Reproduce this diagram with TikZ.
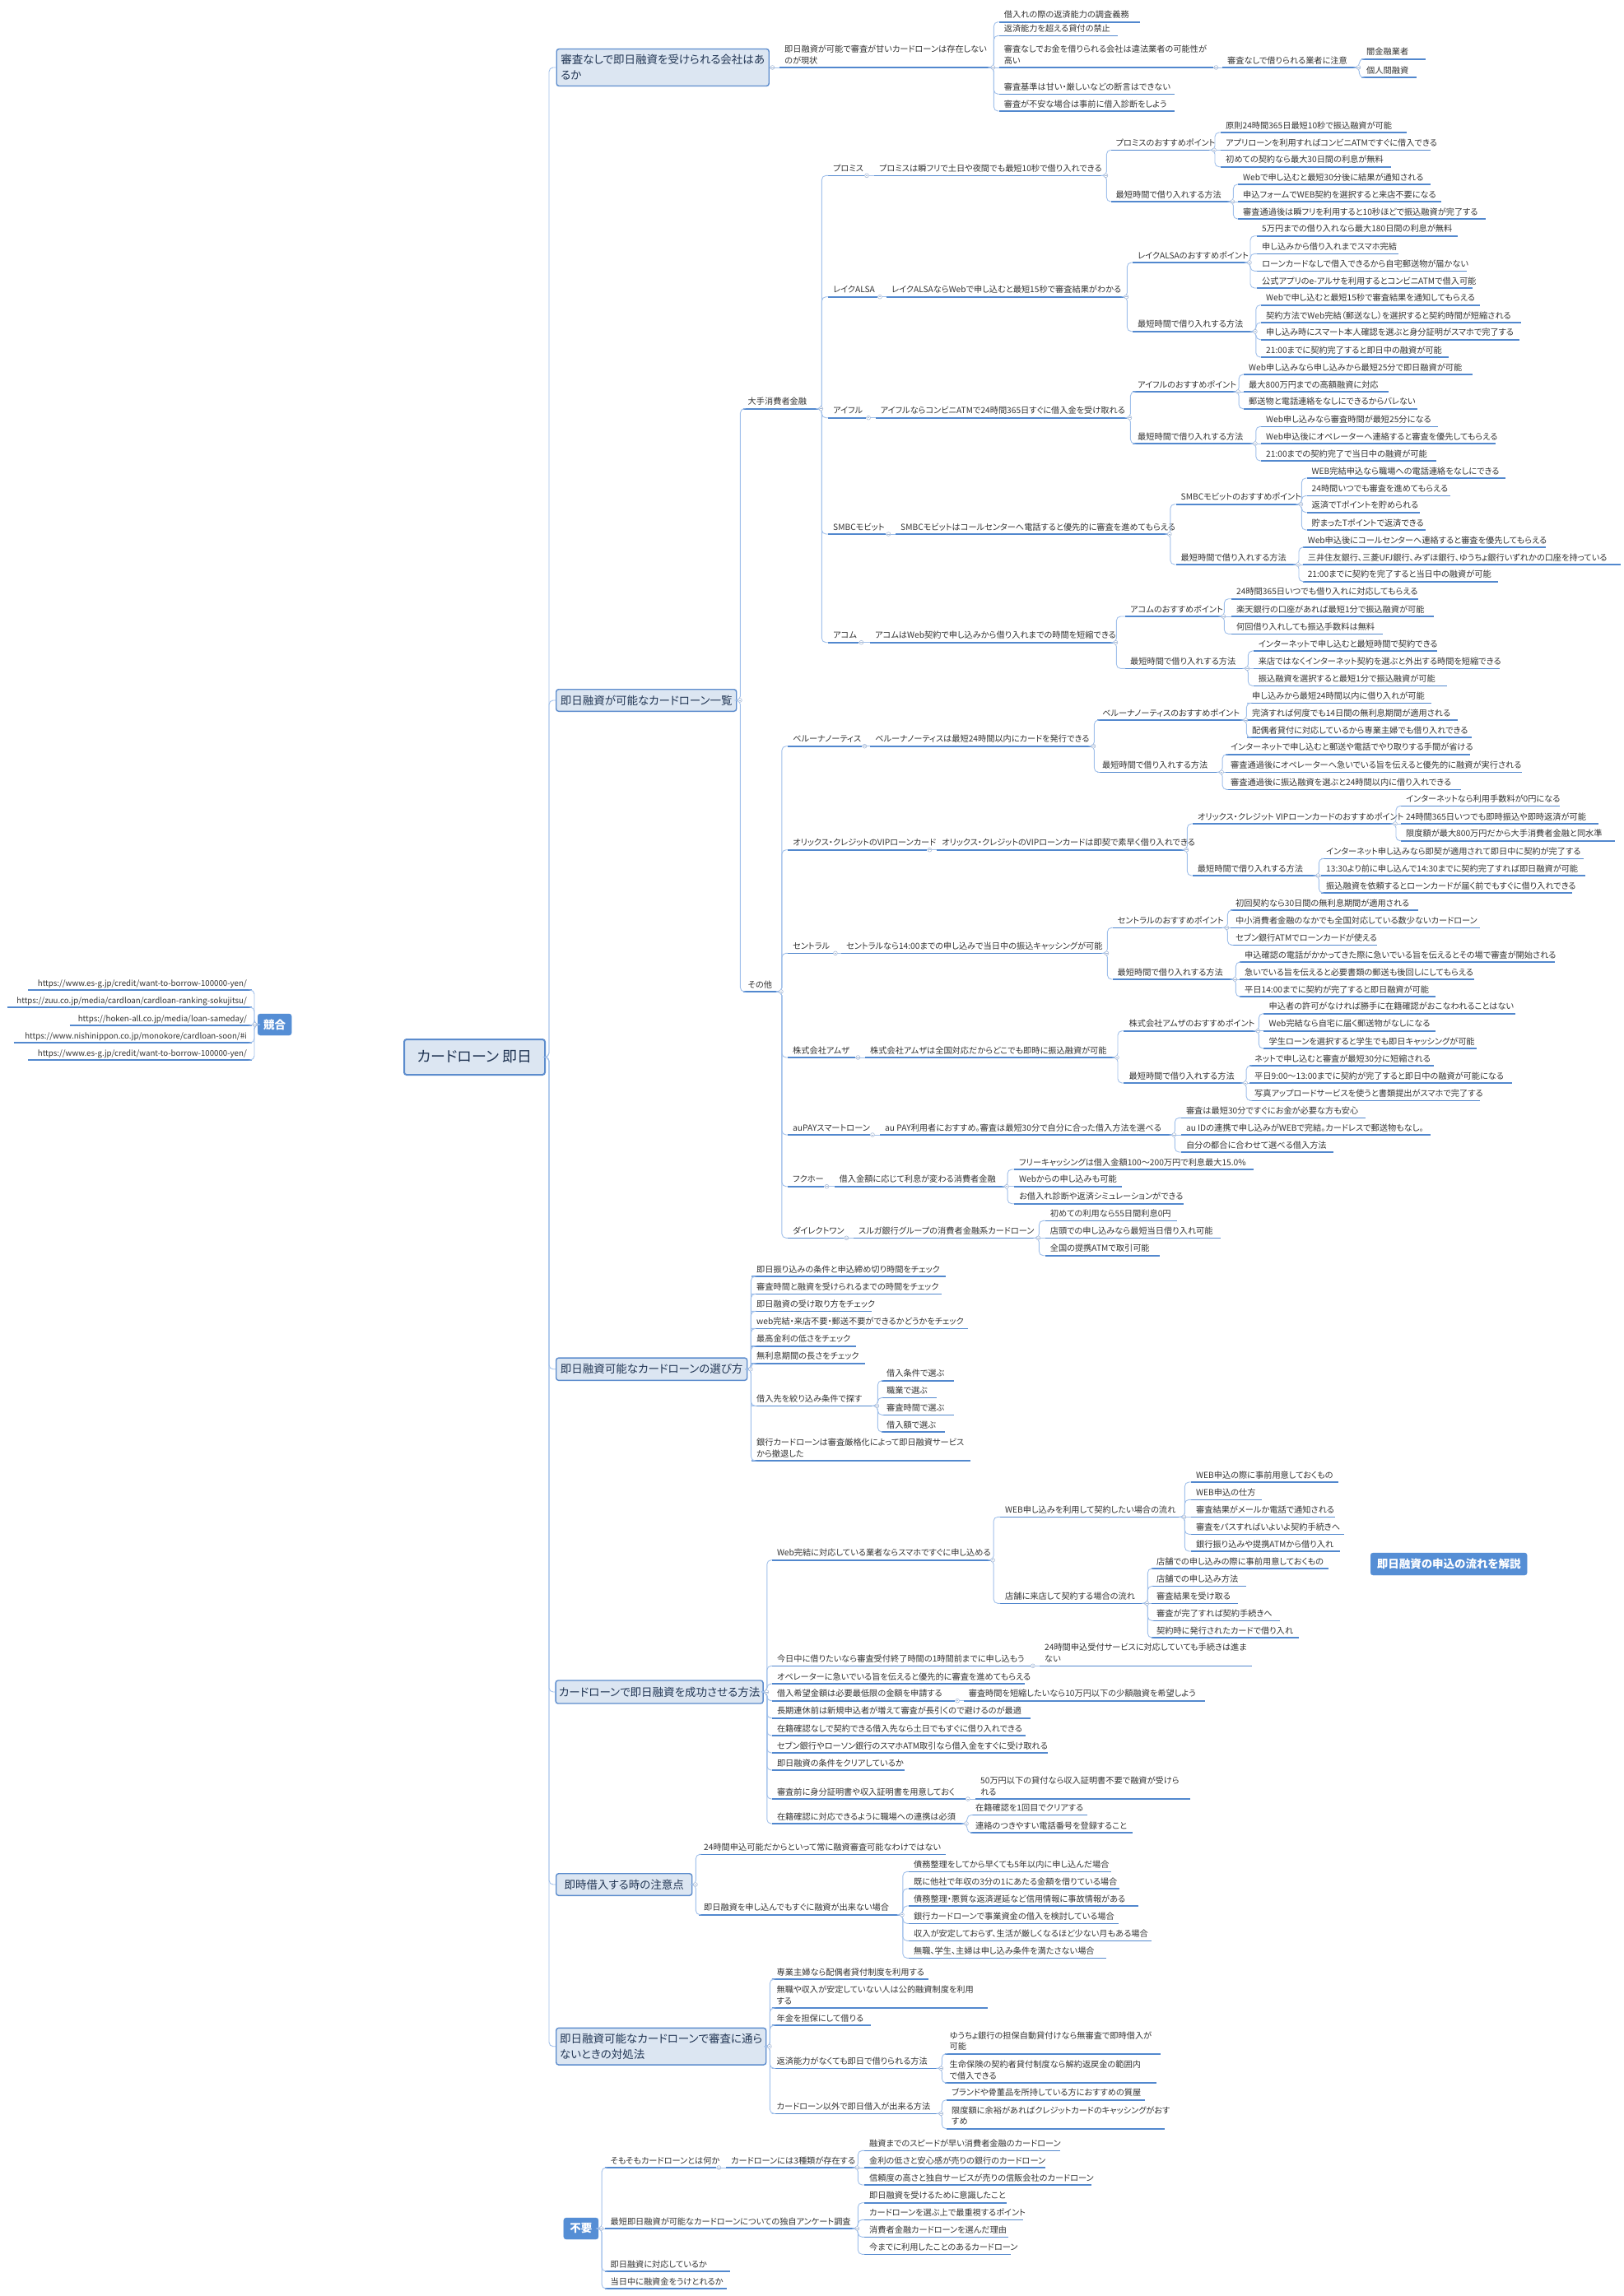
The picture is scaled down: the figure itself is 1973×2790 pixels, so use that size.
\documentclass[tikz,border=0pt]{standalone}
\usepackage{fontspec}
\setmainfont{Noto Sans CJK JP}[RawFeature=+palt]
\definecolor{ulc}{RGB}{82,136,206}
\definecolor{cnc}{RGB}{160,192,235}
\definecolor{boxf}{RGB}{220,230,242}
\definecolor{boxb}{RGB}{92,140,205}
\definecolor{boxt}{RGB}{35,55,85}
\definecolor{bluef}{RGB}{85,142,213}
\definecolor{txtc}{RGB}{51,51,51}
\definecolor{mkc}{RGB}{165,185,215}
\newcommand\lffont{\fontsize{10.2}{13.5}\selectfont}
\newcommand\urfont{\fontsize{9.7}{13}\selectfont}
\newlength\lfw
\tikzset{
 leaf/.style={inner xsep=6pt, inner ysep=2pt, align=left, font=\lffont, text=txtc,
   execute at end node={\vrule width 0pt height 0pt depth 2.8pt}},
 leafh/.style={inner xsep=6pt, inner ysep=2pt, font=\lffont, text=txtc,
   execute at end node={\vrule width 0pt height 0pt depth 2.8pt}},
 uline/.style={draw=ulc, line width=1.6pt},
 conn/.style={draw=cnc, line width=0.9pt, rounded corners=5pt},
 mainbox/.style={draw=boxb, fill=boxf, line width=1.4pt, rounded corners=3pt, text=boxt,
   font=\fontsize{13.5}{19}\selectfont, align=left, inner sep=0pt, anchor=west},
 bluebox/.style={fill=bluef, draw=bluef, rounded corners=3pt, text=white,
   font=\bfseries\fontsize{13.5}{16}\selectfont, inner sep=0pt, anchor=west},
 mkr/.style={draw=mkc, fill=white, line width=0.6pt},
}
% single-line leaf: name, x1, x2, y(underline), text
\newcommand\lf[5]{%
 \settowidth{\lfw}{\lffont #5}%
 \pgfmathsetmacro\reqw{#3-#2-12}%
 \ifdim\lfw<\reqw pt\relax\lfw=\reqw pt\relax\fi
 \node[leafh, anchor=south west] (#1) at (#2,#4) {\makebox[\lfw][l]{#5}};
 \draw[uline] (#1.south west) -- (#1.south east);}
% multi-line leaf
\newcommand\lfm[5]{%
 \pgfmathsetmacro\reqw{#3-#2-12}%
 \node[leaf, text width=\reqw pt, anchor=south west] (#1) at (#2,#4) {#5};
 \draw[uline] (#1.south west) -- (#1.south east);}
% right aligned leaf (urls)
\newcommand\lr[5]{%
 \settowidth{\lfw}{\urfont #5}%
 \pgfmathsetmacro\reqw{#3-#2-12}%
 \ifdim\lfw<\reqw pt\relax\lfw=\reqw pt\relax\fi
 \node[leafh, font=\urfont, anchor=south east] (#1) at (#3,#4) {\makebox[\lfw][r]{#5}};
 \draw[uline] (#1.south west) -- (#1.south east);}
% box: name, x, ymid, W, H, text
\newcommand\mb[6]{\node[mainbox, minimum width=#4pt, minimum height=#5pt] (#1) at (#2,#3) {#6};}
\newcommand\bb[6]{\node[bluebox, minimum width=#4pt, minimum height=#5pt] (#1) at (#2,#3) {#6};}
% connectors
\newcommand\cn[2]{\draw[conn] (#1.south east) -- ++(4,0) |- (#2.south west);}
\newcommand\cs[2]{\draw[conn] (#1.south east) -- (#2.south west);}
\newcommand\cb[2]{\draw[conn] (#1.east) -- ++(4,0) |- (#2.south west);}
\newcommand\cbs[2]{\draw[conn] (#1.east) -- (#2.south west);}
% collapse marker
\newcommand\mk[2]{%
 \path[mkr] ([xshift=#2]#1) circle (2.4pt);
 \draw[mkc, line width=0.5pt] ([xshift=#2-1.3pt]#1) -- ([xshift=#2+1.3pt]#1);}
\newcommand\mkl[1]{\mk{#1.south east}{3pt}}

\begin{document}
\begin{tikzpicture}[x=1pt, y=-1pt]
\useasboundingbox (0,0) rectangle (1973,2790);
\fill[white] (0,0) rectangle (1973,2790);

% ---------- root and left ----------
\node[mainbox, line width=2pt, font=\fontsize{18}{22}\selectfont, minimum width=171pt, minimum height=43pt] (root) at (490,1284.5) {カードローン 即日};
\bb{comp}{313}{1245}{41}{26}{競合}
\lr{w1}{34.5}{306}{1203}{https://www.es-g.jp/credit/want-to-borrow-100000-yen/}
\lr{w2}{9}{306}{1224}{https://zuu.co.jp/media/cardloan/cardloan-ranking-sokujitsu/}
\lr{w3}{85}{306}{1246}{https://hoken-all.co.jp/media/loan-sameday/}
\lr{w4}{17}{306}{1267}{https://www.nishinippon.co.jp/monokore/cardloan-soon/\#i}
\lr{w5}{34.5}{306}{1288}{https://www.es-g.jp/credit/want-to-borrow-100000-yen/}
\foreach \w in {w1,w2,w3,w4,w5} {\draw[conn] (comp.west) -- ++(-4,0) |- (\w.south east);}

% ---------- section boxes ----------
\mb{s1}{675.5}{82}{258}{45}{審査なしで即日融資を受けられる会社はあ\\るか}
\mb{s2}{675}{851}{219}{26.6}{即日融資が可能なカードローン一覧}
\mb{s3}{675}{1663.7}{232}{27.3}{即日融資可能なカードローンの選び方}
\mb{s4}{674.4}{2056}{252}{28}{カードローンで即日融資を成功させる方法}
\mb{s5}{675}{2290}{165}{26.6}{即時借入する時の注意点}
\mb{s6}{675}{2486.7}{255}{44.7}{即日融資可能なカードローンで審査に通ら\\ないときの対処法}
\foreach \s in {s1,s2,s3,s4,s5,s6} {\draw[conn] (root.east) -- ++(4,0) |- (\s.west);}

% ---------- section 1 ----------
\lfm{a1}{947}{1203}{82}{即日融資が可能で審査が甘いカードローンは存在しない\\のが現状}
\lf{a11}{1213.6}{1384.8}{26.7}{借入れの際の返済能力の調査義務}
\lf{a12}{1213.6}{1358}{43.3}{返済能力を超える貸付の禁止}
\lfm{a13}{1213.6}{1474}{82}{審査なしでお金を借りられる会社は違法業者の可能性が\\高い}
\lf{a14}{1213.6}{1427}{114.3}{審査基準は甘い・厳しいなどの断言はできない}
\lf{a15}{1213.6}{1427}{135}{審査が不安な場合は事前に借入診断をしよう}
\lf{a131}{1485}{1647}{82}{審査なしで借りられる業者に注意}
\lf{a1311}{1654}{1731.7}{71.7}{闇金融業者}
\lf{a1312}{1654}{1721}{94}{個人間融資}
\cbs{s1}{a1}
\cn{a1}{a11}\cn{a1}{a12}\cs{a1}{a13}\cn{a1}{a14}\cn{a1}{a15}
\cs{a13}{a131}\cn{a131}{a1311}\cn{a131}{a1312}

% ---------- section 2 ----------
\lf{b1}{902.5}{994}{496.7}{大手消費者金融}
\lf{b2}{902.5}{945.5}{1205}{その他}
\cb{s2}{b1}\cb{s2}{b2}

% プロミス
\lf{p0}{1006}{1049.6}{213.3}{プロミス}
\lf{p1}{1062}{1340}{213.3}{プロミスは瞬フリで土日や夜間でも最短10秒で借り入れできる}
\lf{p2}{1349.5}{1471.6}{182.3}{プロミスのおすすめポイント}
\lf{p21}{1483}{1709}{161}{原則24時間365日最短10秒で振込融資が可能}
\lf{p22}{1483}{1738}{182.3}{アプリローンを利用すればコンビニATMですぐに借入できる}
\lf{p23}{1483}{1690}{202.7}{初めての契約なら最大30日間の利息が無料}
\lf{p3}{1349.5}{1494}{245}{最短時間で借り入れする方法}
\lf{p31}{1504}{1738}{224}{Webで申し込むと最短30分後に結果が通知される}
\lf{p32}{1504}{1750.6}{245}{申込フォームでWEB契約を選択すると来店不要になる}
\lf{p33}{1504}{1804.7}{266}{審査通過後は瞬フリを利用すると10秒ほどで振込融資が完了する}
\cn{b1}{p0}\cs{p0}{p1}\cn{p1}{p2}\cn{p1}{p3}
\cn{p2}{p21}\cs{p2}{p22}\cn{p2}{p23}\cn{p3}{p31}\cs{p3}{p32}\cn{p3}{p33}

% レイク
\lf{l0}{1006}{1065.6}{360.7}{レイクALSA}
\lf{l1}{1077}{1365}{360.7}{レイクALSAならWebで申し込むと最短15秒で審査結果がわかる}
\lf{l2}{1376}{1514.6}{319}{レイクALSAのおすすめポイント}
\lf{l21}{1527}{1771}{286.7}{5万円までの借り入れなら最大180日間の利息が無料}
\lf{l22}{1527}{1698.5}{308.3}{申し込みから借り入れまでスマホ完結}
\lf{l23}{1527}{1782}{329.3}{ローンカードなしで借入できるから自宅郵送物が届かない}
\lf{l24}{1527}{1789}{350}{公式アプリのe-アルサを利用するとコンビニATMで借入可能}
\lf{l3}{1376}{1521.5}{402.7}{最短時間で借り入れする方法}
\lf{l31}{1532}{1797.8}{370.7}{Webで申し込むと最短15秒で審査結果を通知してもらえる}
\lf{l32}{1532}{1847.7}{392}{契約方法でWeb完結（郵送なし）を選択すると契約時間が短縮される}
\lf{l33}{1532}{1846}{412.7}{申し込み時にスマート本人確認を選ぶと身分証明がスマホで完了する}
\lf{l34}{1532}{1759.6}{434}{21:00までに契約完了すると即日中の融資が可能}
\cn{b1}{l0}\cs{l0}{l1}\cn{l1}{l2}\cn{l1}{l3}
\cn{l2}{l21}\cn{l2}{l22}\cn{l2}{l23}\cn{l2}{l24}
\cn{l3}{l31}\cn{l3}{l32}\cn{l3}{l33}\cn{l3}{l34}

% アイフル
\lf{i0}{1006}{1051.7}{507.7}{アイフル}
\lf{i1}{1063.5}{1369}{507.7}{アイフルならコンビニATMで24時間365日すぐに借入金を受け取れる}
\lf{i2}{1376}{1500.7}{476}{アイフルのおすすめポイント}
\lf{i21}{1511}{1789}{455}{Web申し込みなら申し込みから最短25分で即日融資が可能}
\lf{i22}{1511}{1687}{476}{最大800万円までの高額融資に対応}
\lf{i23}{1511}{1721.4}{496.7}{郵送物と電話連絡をなしにできるからバレない}
\lf{i3}{1376}{1521.5}{539}{最短時間で借り入れする方法}
\lf{i31}{1532}{1747}{518.3}{Web申し込みなら審査時間が最短25分になる}
\lf{i32}{1532}{1816.5}{539}{Web申込後にオペレーターへ連絡すると審査を優先してもらえる}
\lf{i33}{1532}{1745}{560}{21:00までの契約完了で当日中の融資が可能}
\cn{b1}{i0}\cs{i0}{i1}\cn{i1}{i2}\cn{i1}{i3}
\cn{i2}{i21}\cs{i2}{i22}\cn{i2}{i23}\cn{i3}{i31}\cs{i3}{i32}\cn{i3}{i33}

% SMBC
\lf{m0}{1006}{1076}{649}{SMBCモビット}
\lf{m1}{1088}{1417.5}{649}{SMBCモビットはコールセンターへ電話すると優先的に審査を進めてもらえる}
\lf{m2}{1428.5}{1577}{612.7}{SMBCモビットのおすすめポイント}
\lf{m21}{1587.5}{1829}{581}{WEB完結申込なら職場への電話連絡をなしにできる}
\lf{m22}{1587.5}{1762}{602.3}{24時間いつでも審査を進めてもらえる}
\lf{m23}{1587.5}{1725}{622.7}{返済でTポイントを貯められる}
\lf{m24}{1587.5}{1732}{644}{貯まったTポイントで返済できる}
\lf{m3}{1428.5}{1573.6}{686}{最短時間で借り入れする方法}
\lf{m31}{1582.6}{1877.6}{665}{Web申込後にコールセンターへ連絡すると審査を優先してもらえる}
\lf{m32}{1582.6}{1969}{686}{三井住友銀行、三菱UFJ銀行、みずほ銀行、ゆうちょ銀行いずれかの口座を持っている}
\lf{m33}{1582.6}{1820}{706.7}{21:00までに契約を完了すると当日中の融資が可能}
\cn{b1}{m0}\cs{m0}{m1}\cn{m1}{m2}\cn{m1}{m3}
\cn{m2}{m21}\cn{m2}{m22}\cn{m2}{m23}\cn{m2}{m24}
\cn{m3}{m31}\cs{m3}{m32}\cn{m3}{m33}

% アコム
\lf{k0}{1006}{1043}{780.7}{アコム}
\lf{k1}{1057}{1352}{780.7}{アコムはWeb契約で申し込みから借り入れまでの時間を短縮できる}
\lf{k2}{1367}{1483}{749}{アコムのおすすめポイント}
\lf{k21}{1496}{1723}{727.7}{24時間365日いつでも借り入れに対応してもらえる}
\lf{k22}{1496}{1741.6}{749}{楽天銀行の口座があれば最短1分で振込融資が可能}
\lf{k23}{1496}{1680}{770.3}{何回借り入れしても振込手数料は無料}
\lf{k3}{1367}{1512}{812.3}{最短時間で借り入れする方法}
\lf{k31}{1522.7}{1746}{791}{インターネットで申し込むと最短時間で契約できる}
\lf{k32}{1522.7}{1821.5}{812.3}{来店ではなくインターネット契約を選ぶと外出する時間を短縮できる}
\lf{k33}{1522.7}{1758}{833.3}{振込融資を選択すると最短1分で振込融資が可能}
\cn{b1}{k0}\cs{k0}{k1}\cn{k1}{k2}\cn{k1}{k3}
\cn{k2}{k21}\cs{k2}{k22}\cn{k2}{k23}\cn{k3}{k31}\cs{k3}{k32}\cn{k3}{k33}

% ベルーナノーティス
\lf{v0}{957}{1047}{906.7}{ベルーナノーティス}
\lf{v1}{1057}{1325}{906.7}{ベルーナノーティスは最短24時間以内にカードを発行できる}
\lf{v2}{1333}{1510}{875}{ベルーナノーティスのおすすめポイント}
\lf{v21}{1515}{1739}{854.3}{申し込みから最短24時間以内に借り入れが可能}
\lf{v22}{1515}{1771}{875}{完済すれば何度でも14日間の無利息期間が適用される}
\lf{v23}{1515}{1788}{896}{配偶者貸付に対応しているから専業主婦でも借り入れできる}
\lf{v3}{1333}{1480.7}{938.3}{最短時間で借り入れする方法}
\lf{v31}{1489}{1786}{916.7}{インターネットで申し込むと郵送や電話でやり取りする手間が省ける}
\lf{v32}{1489}{1848.5}{938.3}{審査通過後にオペレーターへ急いでいる旨を伝えると優先的に融資が実行される}
\lf{v33}{1489}{1775}{959.3}{審査通過後に振込融資を選ぶと24時間以内に借り入れできる}
\cn{b2}{v0}\cs{v0}{v1}\cn{v1}{v2}\cn{v1}{v3}
\cn{v2}{v21}\cs{v2}{v22}\cn{v2}{v23}\cn{v3}{v31}\cs{v3}{v32}\cn{v3}{v33}

% オリックス
\lf{o0}{957}{1126}{1032.7}{オリックス・クレジットのVIPローンカード}
\lf{o1}{1138}{1438}{1032.7}{オリックス・クレジットのVIPローンカードは即契で素早く借り入れできる}
\lf{o2}{1448.7}{1691.6}{1001}{オリックス・クレジット VIPローンカードのおすすめポイント}
\lf{o21}{1702}{1895}{979.3}{インターネットなら利用手数料が0円になる}
\lf{o22}{1702}{1941.4}{1001}{24時間365日いつでも即時振込や即時返済が可能}
\lf{o23}{1702}{1962}{1021.7}{限度額が最大800万円だから大手消費者金融と同水準}
\lf{o3}{1448.7}{1598}{1064}{最短時間で借り入れする方法}
\lf{o31}{1605}{1924}{1043.3}{インターネット申し込みなら即契が適用されて即日中に契約が完了する}
\lf{o32}{1605}{1926}{1064}{13:30より前に申し込んで14:30までに契約完了すれば即日融資が可能}
\lf{o33}{1605}{1910}{1085}{振込融資を依頼するとローンカードが届く前でもすぐに借り入れできる}
\cn{b2}{o0}\cs{o0}{o1}\cn{o1}{o2}\cn{o1}{o3}
\cn{o2}{o21}\cs{o2}{o22}\cn{o2}{o23}\cn{o3}{o31}\cs{o3}{o32}\cn{o3}{o33}

% セントラル
\lf{c0}{957}{1011.5}{1158.3}{セントラル}
\lf{c1}{1022}{1341}{1158.3}{セントラルなら14:00までの申し込みで当日中の振込キャッシングが可能}
\lf{c2}{1351.5}{1487}{1127.3}{セントラルのおすすめポイント}
\lf{c21}{1495}{1723}{1106}{初回契約なら30日間の無利息期間が適用される}
\lf{c22}{1495}{1798}{1127.3}{中小消費者金融のなかでも全国対応している数少ないカードローン}
\lf{c23}{1495}{1673}{1148.3}{セブン銀行ATMでローンカードが使える}
\lf{c3}{1351.5}{1497}{1190}{最短時間で借り入れする方法}
\lf{c31}{1506}{1889}{1169}{申込確認の電話がかかってきた際に急いでいる旨を伝えるとその場で審査が開始される}
\lf{c32}{1506}{1791}{1190}{急いでいる旨を伝えると必要書類の郵送も後回しにしてもらえる}
\lf{c33}{1506}{1743.6}{1211}{平日14:00までに契約が完了すると即日融資が可能}
\cn{b2}{c0}\cs{c0}{c1}\cn{c1}{c2}\cn{c1}{c3}
\cn{c2}{c21}\cs{c2}{c22}\cn{c2}{c23}\cn{c3}{c31}\cs{c3}{c32}\cn{c3}{c33}

% アムザ
\lf{z0}{957}{1039}{1285}{株式会社アムザ}
\lf{z1}{1051}{1353.6}{1285}{株式会社アムザは全国対応だからどこでも即時に振込融資が可能}
\lf{z2}{1365.4}{1525}{1252.7}{株式会社アムザのおすすめポイント}
\lf{z21}{1535.4}{1841}{1231.7}{申込者の許可がなければ勝手に在籍確認がおこなわれることはない}
\lf{z22}{1535.4}{1743.6}{1252.7}{Web完結なら自宅に届く郵送物がなしになる}
\lf{z23}{1535.4}{1793.6}{1274}{学生ローンを選択すると学生でも即日キャッシングが可能}
\lf{z3}{1365.4}{1509.7}{1316}{最短時間で借り入れする方法}
\lf{z31}{1518}{1742}{1295}{ネットで申し込むと審査が最短30分に短縮される}
\lf{z32}{1518}{1837}{1316}{平日9:00～13:00までに契約が完了すると即日中の融資が可能になる}
\lf{z33}{1518}{1797.8}{1337.3}{写真アップロードサービスを使うと書類提出がスマホで完了する}
\cn{b2}{z0}\cs{z0}{z1}\cn{z1}{z2}\cn{z1}{z3}
\cn{z2}{z21}\cs{z2}{z22}\cn{z2}{z23}\cn{z3}{z31}\cs{z3}{z32}\cn{z3}{z33}

% au
\lf{u0}{957}{1056.6}{1379}{auPAYスマートローン}
\lf{u1}{1069}{1423}{1379}{au PAY利用者におすすめ。審査は最短30分で自分に合った借入方法を選べる}
\lf{u11}{1434.8}{1659}{1358.3}{審査は最短30分ですぐにお金が必要な方も安心}
\lf{u12}{1434.8}{1738}{1379}{au IDの連携で申し込みがWEBで完結。カードレスで郵送物もなし。}
\lf{u13}{1434.8}{1620}{1400}{自分の都合に合わせて選べる借入方法}
\cn{b2}{u0}\cs{u0}{u1}\cn{u1}{u11}\cs{u1}{u12}\cn{u1}{u13}

% フクホー
\lf{f0}{957}{1001}{1441.7}{フクホー}
\lf{f1}{1013.5}{1219.7}{1441.7}{借入金額に応じて利息が変わる消費者金融}
\lf{f11}{1232}{1523}{1421}{フリーキャッシングは借入金額100～200万円で利息最大15.0\%}
\lf{f12}{1232}{1363}{1441.7}{Webからの申し込みも可能}
\lf{f13}{1232}{1438}{1462.7}{お借入れ診断や返済シミュレーションができる}
\cn{b2}{f0}\cs{f0}{f1}\cn{f1}{f11}\cs{f1}{f12}\cn{f1}{f13}

% ダイレクトワン
\lf{d0}{957}{1025}{1504.3}{ダイレクトワン}
\lf{d1}{1037}{1258}{1504.3}{スルガ銀行グループの消費者金融系カードローン}
\lf{d11}{1269.6}{1430}{1483.3}{初めての利用なら55日間利息0円}
\lf{d12}{1269.6}{1483}{1504.3}{店頭での申し込みなら最短当日借り入れ可能}
\lf{d13}{1269.6}{1409}{1525.7}{全国の提携ATMで取引可能}
\cn{b2}{d0}\cs{d0}{d1}\cn{d1}{d11}\cs{d1}{d12}\cn{d1}{d13}

% ---------- section 3 ----------
\lf{e1}{913}{1149}{1551}{即日振り込みの条件と申込締め切り時間をチェック}
\lf{e2}{913}{1144}{1572.3}{審査時間と融資を受けられるまでの時間をチェック}
\lf{e3}{913}{1059}{1593.3}{即日融資の受け取り方をチェック}
\lf{e4}{913}{1176}{1614.3}{web完結・来店不要・郵送不要ができるかどうかをチェック}
\lf{e5}{913}{1040}{1635.7}{最高金利の低さをチェック}
\lf{e6}{913}{1050.6}{1656.7}{無利息期間の長さをチェック}
\lf{e7}{913}{1062}{1708.3}{借入先を絞り込み条件で探す}
\lf{e71}{1071}{1159}{1677.7}{借入条件で選ぶ}
\lf{e72}{1071}{1137.5}{1698.3}{職業で選ぶ}
\lf{e73}{1071}{1159}{1719.3}{審査時間で選ぶ}
\lf{e74}{1071}{1148}{1740}{借入額で選ぶ}
\lfm{e8}{913}{1178.8}{1775}{銀行カードローンは審査厳格化によって即日融資サービス\\から撤退した}
\foreach \e in {e1,e2,e3,e4,e5,e6,e7,e8} {\cb{s3}{\e}}
\cn{e7}{e71}\cn{e7}{e72}\cn{e7}{e73}\cn{e7}{e74}

% ---------- section 4 ----------
\lf{g1}{937.8}{1202.7}{1895.7}{Web完結に対応している業者ならスマホですぐに申し込める}
\lf{g11}{1215}{1435}{1843.3}{WEB申し込みを利用して契約したい場合の流れ}
\lf{g111}{1447}{1626}{1801}{WEB申込の際に事前用意しておくもの}
\lf{g112}{1447}{1533}{1822.3}{WEB申込の仕方}
\lf{g113}{1447}{1622}{1843.3}{審査結果がメールか電話で通知される}
\lf{g114}{1447}{1633}{1864.3}{審査をパスすればいよいよ契約手続きへ}
\lf{g115}{1447}{1628}{1885}{銀行振り込みや提携ATMから借り入れ}
\lf{g12}{1215}{1390}{1948.3}{店舗に来店して契約する場合の流れ}
\lf{g121}{1399}{1614}{1906}{店舗での申し込みの際に事前用意しておくもの}
\lf{g122}{1399}{1513.7}{1927.3}{店舗での申し込み方法}
\lf{g123}{1399}{1504}{1948.3}{審査結果を受け取る}
\lf{g124}{1399}{1555}{1969.3}{審査が完了すれば契約手続きへ}
\lf{g125}{1399}{1577.7}{1990}{契約時に発行されたカードで借り入れ}
\lf{g2}{937.8}{1251.4}{2024.3}{今日中に借りたいなら審査受付終了時間の1時間前までに申し込もう}
\lfm{g21}{1263}{1521}{2024.3}{24時間申込受付サービスに対応していても手続きは進ま\\ない}
\lf{g3}{937.8}{1244.5}{2046}{オペレーターに急いでいる旨を伝えると優先的に審査を進めてもらえる}
\lf{g4}{937.8}{1159.7}{2066.7}{借入希望金額は必要最低限の金額を申請する}
\lf{g41}{1170.6}{1463.8}{2066.7}{審査時間を短縮したいなら10万円以下の少額融資を希望しよう}
\lf{g5}{937.8}{1251.4}{2087.7}{長期連休前は新規申込者が増えて審査が長引くので避けるのが最適}
\lf{g6}{937.8}{1245.7}{2109}{在籍確認なしで契約できる借入先なら土日でもすぐに借り入れできる}
\lf{g7}{937.8}{1272.8}{2130}{セブン銀行やローソン銀行のスマホATM取引なら借入金をすぐに受け取れる}
\lf{g8}{937.8}{1098.5}{2151}{即日融資の条件をクリアしているか}
\lf{g9}{937.8}{1172.4}{2186}{審査前に身分証明書や収入証明書を用意しておく}
\lfm{g91}{1185}{1446}{2186}{50万円以下の貸付なら収入証明書不要で融資が受けら\\れる}
\lf{g10}{937.8}{1170.6}{2216}{在籍確認に対応できるように職場への連携は必須}
\lf{g101}{1179}{1320.7}{2205.5}{在籍確認を1回目でクリアする}
\lf{g102}{1179}{1375.5}{2227}{連絡のつきやすい電話番号を登録すること}
\foreach \g in {g1,g2,g3,g4,g5,g6,g7,g8,g9,g10} {\cb{s4}{\g}}
\cn{g1}{g11}\cn{g1}{g12}
\cn{g11}{g111}\cn{g11}{g112}\cs{g11}{g113}\cn{g11}{g114}\cn{g11}{g115}
\cn{g12}{g121}\cn{g12}{g122}\cs{g12}{g123}\cn{g12}{g124}\cn{g12}{g125}
\cs{g2}{g21}\cs{g4}{g41}\cs{g9}{g91}\cn{g10}{g101}\cn{g10}{g102}
\bb{expl}{1665}{1900.5}{190}{27}{即日融資の申込の流れを解説}

% ---------- section 5 ----------
\lf{h1}{849}{1149}{2253.3}{24時間申込可能だからといって常に融資審査可能なわけではない}
\lf{h2}{849}{1092.5}{2326.7}{即日融資を申し込んでもすぐに融資が出来ない場合}
\lf{h21}{1104}{1350}{2274.3}{債務整理をしてから早くても5年以内に申し込んだ場合}
\lf{h22}{1104}{1360}{2295}{既に他社で年収の3分の1にあたる金額を借りている場合}
\lf{h23}{1104}{1382.5}{2316}{債務整理・悪質な返済遅延など信用情報に事故情報がある}
\lf{h24}{1104}{1359}{2337.3}{銀行カードローンで事業資金の借入を検討している場合}
\lf{h25}{1104}{1399}{2358.3}{収入が安定しておらず、生活が厳しくなるほど少ない月もある場合}
\lf{h26}{1104}{1344}{2379.3}{無職、学生、主婦は申し込み条件を満たさない場合}
\cb{s5}{h1}\cb{s5}{h2}
\foreach \h in {h21,h22,h23,h24,h25,h26} {\cn{h2}{\h}}

% ---------- section 6 ----------
\lf{j1}{937.5}{1127.5}{2405}{専業主婦なら配偶者貸付制度を利用する}
\lfm{j2}{937.5}{1200}{2440}{無職や収入が安定していない人は公的融資制度を利用\\する}
\lf{j3}{937.5}{1057.5}{2461}{年金を担保にして借りる}
\lf{j4}{937.5}{1140}{2513.3}{返済能力がなくても即日で借りられる方法}
\lfm{j41}{1147.5}{1410}{2495.7}{ゆうちょ銀行の担保自動貸付けなら無審査で即時借入が\\可能}
\lfm{j42}{1147.5}{1405}{2531}{生命保険の契約者貸付制度なら解約返戻金の範囲内\\で借入できる}
\lf{j5}{937.5}{1140}{2568.3}{カードローン以外で即日借入が出来る方法}
\lf{j51}{1150}{1391}{2551.7}{ブランドや骨董品を所持している方におすすめの質屋}
\lfm{j52}{1150}{1415}{2586.7}{限度額に余裕があればクレジットカードのキャッシングがおす\\すめ}
\foreach \j in {j1,j2,j3,j4,j5} {\cb{s6}{\j}}
\cn{j4}{j41}\cn{j4}{j42}\cn{j5}{j51}\cn{j5}{j52}

% ---------- 不要 ----------
\bb{fuyo}{684.7}{2708}{42}{26}{不要}
\lf{q1}{735.4}{870}{2634}{そもそもカードローンとは何か}
\lf{q11}{882}{1038}{2634}{カードローンには3種類が存在する}
\lf{q111}{1050}{1288}{2613.3}{融資までのスピードが早い消費者金融のカードローン}
\lf{q112}{1050}{1270}{2634}{金利の低さと安心感が売りの銀行のカードローン}
\lf{q113}{1050}{1326}{2655}{信頼度の高さと独自サービスが売りの信販会社のカードローン}
\lf{q2}{735.4}{1038}{2708}{最短即日融資が可能なカードローンについての独自アンケート調査}
\lf{q21}{1050}{1223}{2676.7}{即日融資を受けるために意識したこと}
\lf{q22}{1050}{1243}{2697.3}{カードローンを選ぶ上で最重視するポイント}
\lf{q23}{1050}{1225}{2718.3}{消費者金融カードローンを選んだ理由}
\lf{q24}{1050}{1227.6}{2739.3}{今までに利用したことのあるカードローン}
\lf{q3}{735.4}{886.6}{2760}{即日融資に対応しているか}
\lf{q4}{735.4}{883}{2781}{当日中に融資金をうけとれるか}
\cb{fuyo}{q1}\cbs{fuyo}{q2}\cb{fuyo}{q3}\cb{fuyo}{q4}
\cs{q1}{q11}\cn{q11}{q111}\cs{q11}{q112}\cn{q11}{q113}
\foreach \q in {q21,q22,q23,q24} {\cn{q2}{\q}}

% ---------- collapse markers ----------
\foreach \b in {s1,s2,s3,s4,s5,s6,fuyo} {\mk{\b.east}{3.5pt}}
\mk{comp.west}{-3.5pt}
\foreach \n in {a1,a13,a131,b1,b2,p0,p1,p2,p3,l0,l1,l2,l3,i0,i1,i2,i3,m0,m1,m2,m3,k0,k1,k2,k3,
  v0,v1,v2,v3,o0,o1,o2,o3,c0,c1,c2,c3,z0,z1,z2,z3,u0,u1,f0,f1,d0,d1,e7,g1,g11,g12,g2,g4,g9,g10,
  h2,j4,j5,q1,q11,q2} {\mkl{\n}}
\end{tikzpicture}
\end{document}
